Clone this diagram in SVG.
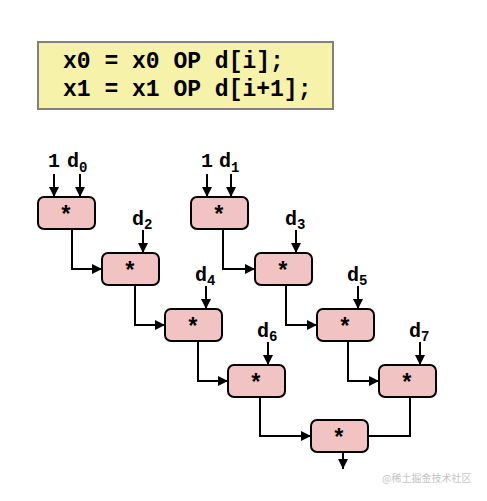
<svg xmlns="http://www.w3.org/2000/svg" width="487" height="501" viewBox="0 0 487 501">
<defs>
<style>
.box{fill:#f2c3c3;stroke:#000;stroke-width:2}
.st{font-family:"Liberation Mono","Courier New",monospace;font-weight:bold;font-size:23px;text-anchor:middle;fill:#000}
.lb{font-family:"Liberation Mono","Courier New",monospace;font-weight:bold;font-size:20px;fill:#000}
.sub{font-size:14px}
.code{font-family:"Liberation Mono","Courier New",monospace;font-weight:bold;font-size:23px;fill:#000}
.ln{fill:none;stroke:#000;stroke-width:2}
</style>
<marker id="ah" viewBox="0 0 10 10" refX="10" refY="5" markerWidth="5" markerHeight="5" orient="auto" markerUnits="strokeWidth">
<path d="M0,0 L10,5 L0,10 z" fill="#000"/>
</marker>
</defs>
<rect width="487" height="501" fill="#fff"/>
<g id="code">
<rect x="38" y="42" width="295" height="67" fill="#f6f2aa" stroke="#808080" stroke-width="2"/>
<text class="code" x="63" y="68" xml:space="preserve">x0 = x0 OP d[i];</text>
<text class="code" x="63" y="96" xml:space="preserve">x1 = x1 OP d[i+1];</text>
</g>
<g id="connectors">
<path class="ln" marker-end="url(#ah)" d="M54,174 V197"/>
<path class="ln" marker-end="url(#ah)" d="M80,174 V197"/>
<path class="ln" marker-end="url(#ah)" d="M207,174 V197"/>
<path class="ln" marker-end="url(#ah)" d="M231,174 V197"/>
<path class="ln" marker-end="url(#ah)" d="M143,230 V253"/>
<path class="ln" marker-end="url(#ah)" d="M296,230 V253"/>
<path class="ln" marker-end="url(#ah)" d="M206,286 V309"/>
<path class="ln" marker-end="url(#ah)" d="M358,286 V309"/>
<path class="ln" marker-end="url(#ah)" d="M268,342 V365"/>
<path class="ln" marker-end="url(#ah)" d="M420,342 V365"/>
<path class="ln" marker-end="url(#ah)" d="M72,229 V269 H102"/>
<path class="ln" marker-end="url(#ah)" d="M135,285 V325 H165"/>
<path class="ln" marker-end="url(#ah)" d="M198,341 V381 H228"/>
<path class="ln" marker-end="url(#ah)" d="M260,397 V436 H311"/>
<path class="ln" marker-end="url(#ah)" d="M223,229 V269 H255"/>
<path class="ln" marker-end="url(#ah)" d="M286,285 V325 H317"/>
<path class="ln" marker-end="url(#ah)" d="M348,341 V381 H379"/>
<path class="ln" d="M410,397 V436 H368"/>
<path class="ln" marker-end="url(#ah)" d="M343,452 V469"/>
</g>
<g id="labels">
<text class="lb" x="48" y="167">1</text>
<text class="lb" x="67" y="167">d<tspan class="sub" dy="5">0</tspan></text>
<text class="lb" x="201" y="167">1</text>
<text class="lb" x="219" y="167">d<tspan class="sub" dy="5">1</tspan></text>
<text class="lb" x="132" y="225">d<tspan class="sub" dy="4">2</tspan></text>
<text class="lb" x="285" y="225">d<tspan class="sub" dy="4">3</tspan></text>
<text class="lb" x="195" y="281">d<tspan class="sub" dy="4">4</tspan></text>
<text class="lb" x="347" y="281">d<tspan class="sub" dy="4">5</tspan></text>
<text class="lb" x="257" y="337">d<tspan class="sub" dy="4">6</tspan></text>
<text class="lb" x="409" y="337">d<tspan class="sub" dy="4">7</tspan></text>
</g>
<g id="A1"><rect class="box" x="38" y="197" width="57" height="32" rx="6"/><text class="st" x="66" y="223">*</text></g>
<g id="A2"><rect class="box" x="102" y="253" width="57" height="32" rx="6"/><text class="st" x="130" y="279">*</text></g>
<g id="A3"><rect class="box" x="165" y="309" width="57" height="32" rx="6"/><text class="st" x="193" y="335">*</text></g>
<g id="A4"><rect class="box" x="228" y="365" width="57" height="32" rx="6"/><text class="st" x="256" y="391">*</text></g>
<g id="B1"><rect class="box" x="191" y="197" width="57" height="32" rx="6"/><text class="st" x="219" y="223">*</text></g>
<g id="B2"><rect class="box" x="255" y="253" width="57" height="32" rx="6"/><text class="st" x="283" y="279">*</text></g>
<g id="B3"><rect class="box" x="317" y="309" width="57" height="32" rx="6"/><text class="st" x="345" y="335">*</text></g>
<g id="B4"><rect class="box" x="379" y="365" width="57" height="32" rx="6"/><text class="st" x="407" y="391">*</text></g>
<g id="F"><rect class="box" x="311" y="420" width="57" height="32" rx="6"/><text class="st" x="339" y="446">*</text></g>
<text x="382" y="482" font-family="'Noto Sans CJK SC',sans-serif" font-size="10" fill="#c4c4c4">@稀土掘金技术社区</text>
</svg>
